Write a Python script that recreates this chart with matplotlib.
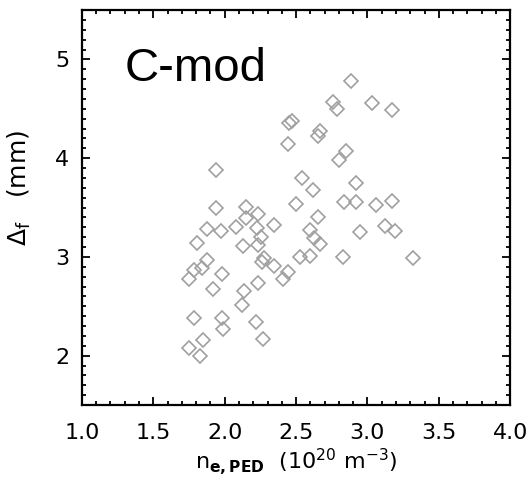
import numpy as np
import matplotlib.pyplot as plt
from matplotlib.ticker import MultipleLocator

# pedestal density (1e20 m^-3) and foot width (mm)
n_ped = [2.883, 2.761, 2.785, 3.032, 3.172, 2.451, 2.475, 2.444, 2.671, 2.656,
         2.850, 2.801, 1.936, 2.545, 2.621, 2.920, 2.500, 2.836, 2.920, 3.060,
         3.174, 1.941, 2.147, 2.233, 2.149, 2.345, 2.224, 1.874, 1.974, 2.079,
         2.652, 2.596, 2.626, 2.671, 2.948, 3.123, 3.193, 1.804, 2.130, 2.235,
         2.252, 1.878, 1.843, 1.787, 1.750, 1.983, 2.275, 2.264, 2.345, 2.444,
         2.406, 2.531, 2.598, 2.826, 3.322, 1.920, 2.235, 2.137, 2.119, 1.785,
         1.979, 1.985, 2.217, 2.265, 1.850, 1.750, 1.827]
delta_f = [4.781, 4.568, 4.501, 4.558, 4.487, 4.361, 4.376, 4.146, 4.280, 4.229,
           4.072, 3.981, 3.880, 3.802, 3.677, 3.753, 3.540, 3.556, 3.556, 3.525,
           3.569, 3.495, 3.505, 3.437, 3.397, 3.326, 3.297, 3.279, 3.267, 3.303,
           3.400, 3.277, 3.194, 3.130, 3.252, 3.315, 3.267, 3.137, 3.107, 3.120,
           3.204, 2.973, 2.884, 2.867, 2.776, 2.824, 2.994, 2.951, 2.908, 2.844,
           2.773, 2.997, 3.011, 2.999, 2.989, 2.675, 2.732, 2.654, 2.508, 2.386,
           2.381, 2.267, 2.337, 2.170, 2.161, 2.077, 2.001]

fig = plt.figure(figsize=(5.32, 4.83), dpi=100)
ax = fig.add_axes([0.154, 0.1615, 0.805, 0.8175])

ax.plot(n_ped, delta_f, linestyle='none', marker='D', markersize=7.6,
        markerfacecolor='none', markeredgecolor='#a0a0a0', markeredgewidth=1.2)

ax.set_xlim(1.0, 4.0)
ax.set_ylim(1.5, 5.5)
ax.xaxis.set_major_locator(MultipleLocator(0.5))
ax.xaxis.set_minor_locator(MultipleLocator(0.1))
ax.yaxis.set_major_locator(MultipleLocator(1))
ax.yaxis.set_minor_locator(MultipleLocator(0.1))
ax.xaxis.set_major_formatter(plt.FormatStrFormatter('%.1f'))

for s in ax.spines.values():
    s.set_linewidth(1.6)
ax.tick_params(which='both', direction='in', top=True, right=True, width=1.3)
ax.tick_params(which='major', length=6, labelsize=16)
ax.tick_params(which='minor', length=3)
ax.tick_params(axis='x', pad=13)
ax.tick_params(axis='y', pad=9)

ax.set_xlabel(r'n$_{\mathbf{e,PED}}$  (10$^{20}$ m$^{-3}$)', fontsize=16)
ax.set_ylabel(r'$\Delta_{\rm f}$   (mm)', fontsize=18)
ax.xaxis.set_label_coords(0.5, -0.105)
ax.yaxis.set_label_coords(-0.115, 0.55)

ax.text(0.1, 0.82, 'C-mod', transform=ax.transAxes, fontsize=34,
        family='Liberation Sans')

fig.savefig('out.png', dpi=100)
